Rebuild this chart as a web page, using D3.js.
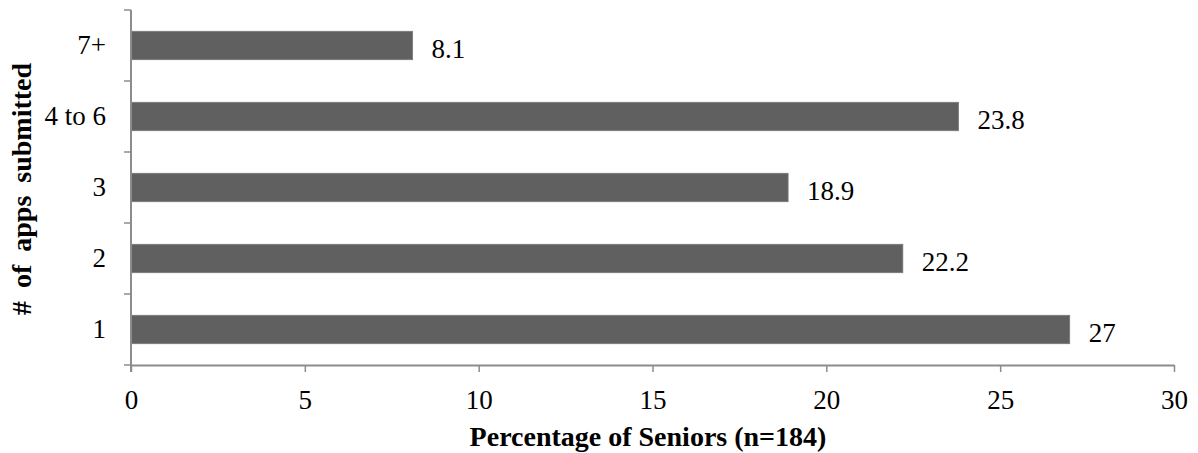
<!DOCTYPE html>
<html><head><meta charset="utf-8">
<script src="https://cdn.jsdelivr.net/npm/d3@7"></script>
<style>body{margin:0;background:#fff}svg{display:block}</style>
</head><body>
<svg id="c" width="1198" height="453"></svg>
<script>
const categories = ["1", "2", "3", "4 to 6", "7+"];
const values = [27, 22.2, 18.9, 23.8, 8.1];
const valueLabels = ["27", "22.2", "18.9", "23.8", "8.1"];
const xTicks = [0, 5, 10, 15, 20, 25, 30];
const xTitle = "Percentage of Seniors (n=184)";
const yTitle = "# of apps submitted";

(function () {
const svg = d3.select("#c");
const mL = 131, mR = 1174, mT = 10, mB = 365;
const font = "'Liberation Serif', 'Times New Roman', serif";
const fs = 27;
const x = d3.scaleLinear().domain([0, 30]).range([mL, mR]);
const y = d3.scaleBand().domain(categories).range([mB, mT]).paddingInner(0.6).paddingOuter(0.3);
const yb = d3.scaleBand().domain(categories).range([mB, mT]);

svg.selectAll("rect.bar").data(categories).enter().append("rect")
  .attr("x", x(0)).attr("y", d => y(d))
  .attr("width", (d, i) => x(values[i]) - x(0)).attr("height", y.bandwidth())
  .attr("fill", "#606060").attr("stroke", "#787878").attr("stroke-width", 0.8);

svg.selectAll("text.val").data(categories).enter().append("text")
  .attr("x", (d, i) => x(values[i]) + 19).attr("y", d => y(d) + y.bandwidth() / 2)
  .attr("dy", "0.46em").attr("font-family", font).attr("font-size", fs).attr("fill", "#000")
  .text((d, i) => valueLabels[i]);

const xa = svg.append("g").attr("transform", `translate(0,${mB})`)
  .call(d3.axisBottom(x).tickValues(xTicks).tickSize(7).tickPadding(18).tickSizeOuter(0));
xa.select(".domain").attr("stroke", "#8c8c8c").attr("stroke-width", 2);
xa.selectAll(".tick line").attr("stroke", "#8c8c8c").attr("stroke-width", 1.5);
xa.selectAll("text").attr("font-family", font).attr("font-size", fs).attr("fill", "#000");

const ya = svg.append("g").attr("transform", `translate(${mL},0)`)
  .call(d3.axisLeft(yb).tickSize(0).tickPadding(25));
ya.select(".domain").remove();
ya.append("line").attr("x1", 0).attr("x2", 0).attr("y1", mT).attr("y2", mB + 7).attr("stroke", "#8c8c8c").attr("stroke-width", 2);
ya.selectAll(".tick text").attr("font-family", font).attr("font-size", fs).attr("fill", "#000");
const edges = categories.map(c => yb(c)).concat([mB]);
ya.selectAll("line.yt").data(edges).enter().append("line")
  .attr("x1", -7).attr("x2", 0).attr("y1", d => d).attr("y2", d => d)
  .attr("stroke", "#8c8c8c").attr("stroke-width", 1.5);

svg.append("text").attr("x", 648).attr("y", 446).attr("text-anchor", "middle")
  .attr("font-family", font).attr("font-weight", "bold").attr("font-size", 28).text(xTitle);
svg.append("text").attr("transform", `translate(31,189) rotate(-90)`).attr("text-anchor", "middle")
  .attr("font-family", font).attr("font-weight", "bold").attr("font-size", 28)
  .attr("word-spacing", 6).text(yTitle);
})();
</script>
</body></html>
